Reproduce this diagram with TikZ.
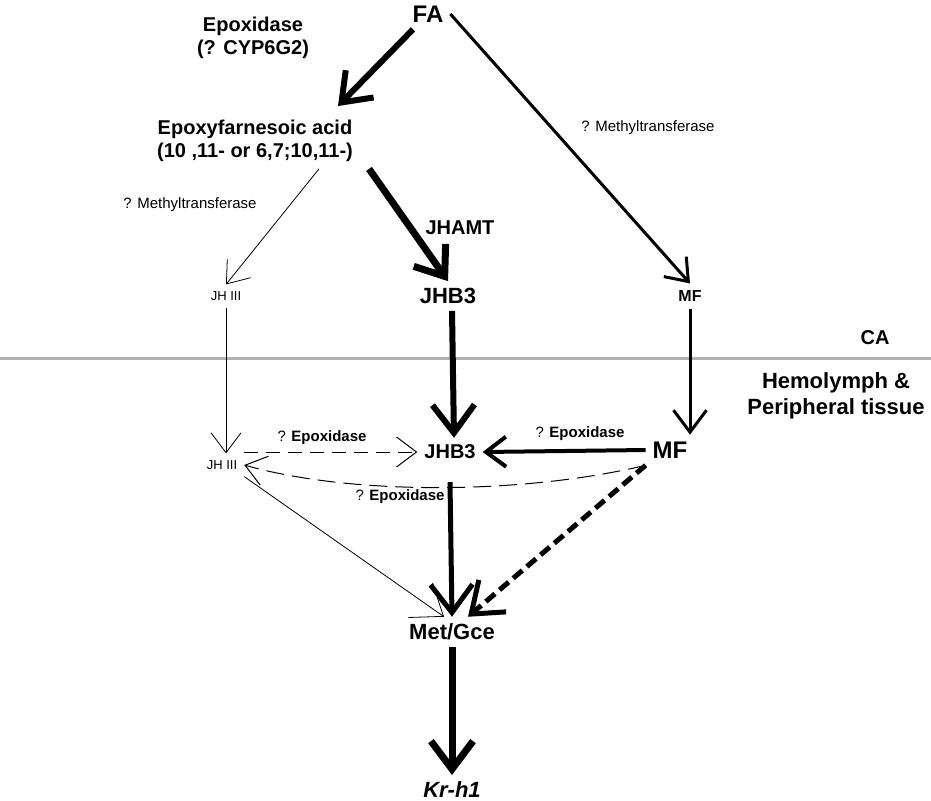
\documentclass[tikz,border=0pt]{standalone}
\usepackage{fontspec}
\setmainfont{Liberation Sans}
\usetikzlibrary{arrows.meta}
\tikzset{
  lbl/.style={font=\bfseries\fontsize{10}{11.5}\selectfont, align=center},
  sml/.style={font=\fontsize{7.5}{8}\selectfont},
  tip/.style={-{Straight Barb[length=#1,width=1.5*#1]}},
}
\begin{document}
\begin{tikzpicture}[x=0.5pt,y=-0.5pt]
   \useasboundingbox (0,0) rectangle (931,800);

   % nodes, CA side
   \node[lbl,font=\bfseries\fontsize{12}{13}\selectfont] (fa) at (428,14) {FA};
   \node[lbl] (epx) at (253,38) {Epoxidase\\(? CYP6G2)};
   \node[lbl] (efa) at (255,141) {Epoxyfarnesoic acid\\(10 ,11- or 6,7;10,11-)};
   \node[sml,font=\fontsize{6.5}{7}\selectfont] (jh1) at (226,296) {JH III};
   \node[lbl,font=\bfseries\fontsize{11}{12}\selectfont] (jhb1) at (448,296) {JHB3};
   \node[lbl,font=\bfseries\fontsize{8}{9}\selectfont] (mf1) at (690,296) {MF};
   \coordinate (c1) at (338,106);

   % compartment line
   \draw[gray!60,line width=1.5pt] (0,358) -- (931,358);
   \node[lbl] (ca) at (875,338) {CA};
   \node[lbl,font=\bfseries\fontsize{11}{13}\selectfont] (hemo) at (836,396) {Hemolymph \&\\Peripheral tissue};

   % nodes, hemolymph side
   \node[sml,font=\fontsize{6.5}{7}\selectfont] (jh2) at (222,465) {JH III};
   \node[lbl] (jhb2) at (450,452) {JHB3};
   \node[lbl,font=\bfseries\fontsize{12}{13}\selectfont] (mf2) at (670,450) {MF};
   \node[lbl,font=\bfseries\fontsize{11}{12}\selectfont] (met) at (452,632) {Met/Gce};
   \node[lbl,font=\bfseries\itshape\fontsize{11}{12}\selectfont] (kr) at (452,790) {Kr-h1};

   % connectors
   \draw[line width=3pt,tip=13pt] (fa) -- (c1);
   \draw[line width=1.5pt,tip=10pt] (fa.east) -- (mf1.north);
   \node[sml] (mt1) at (648,128) {? Methyltransferase};
   \draw[line width=0.4pt,tip=10pt] ([xshift=32pt]efa.south) -- (jh1.north);
   \node[sml] (mt2) at (190,205) {? Methyltransferase};
   \draw[line width=3.5pt,tip=13pt] ([xshift=57pt]efa.south) -- (jhb1.north);
   \node[lbl] (jhamt) at (460,228) {JHAMT};

   \draw[line width=0.4pt,tip=10pt] (jh1) -- (jh1 |- jh2.north);
   \draw[line width=3pt,tip=14pt] ([xshift=2pt]jhb1.south) -- ([xshift=2pt]jhb2.north);
   \draw[line width=1.5pt,tip=11pt] (mf1) -- (mf1 |- mf2.north);

   \draw[dash pattern=on 7pt off 4pt,line width=0.5pt,tip=10pt] (jh2.east |- jhb2) -- (jhb2.west);
   \node[font=\bfseries\fontsize{7.5}{8}\selectfont] (ep1) at (322,438) {\mdseries ? \bfseries Epoxidase};
   \draw[line width=2pt,tip=10pt] (mf2.west) -- (jhb2.east);
   \node[font=\bfseries\fontsize{7.5}{8}\selectfont] (ep2) at (580,434) {\mdseries ? \bfseries Epoxidase};
   \draw[dash pattern=on 9pt off 4pt,line width=0.5pt,tip=10pt] (mf2.south west) .. controls (520,495) and (350,495) .. (jh2.east);
   \node[font=\bfseries\fontsize{7.5}{8}\selectfont] (ep3) at (400,497) {\mdseries ? \bfseries Epoxidase};

   \draw[line width=2.5pt,tip=14pt] ([yshift=-8pt]jhb2.south) -- (met.north);
   \draw[line width=0.4pt,tip=14pt] (jh2.south east) -- ([xshift=-4pt]met.north);
   \draw[line width=2.5pt,dash pattern=on 6pt off 3pt,tip=14pt] (mf2.south west) -- ([xshift=8pt]met.north);
   \draw[line width=3.5pt,tip=14pt] (met.south) -- (kr.north);
\end{tikzpicture}
\end{document}
